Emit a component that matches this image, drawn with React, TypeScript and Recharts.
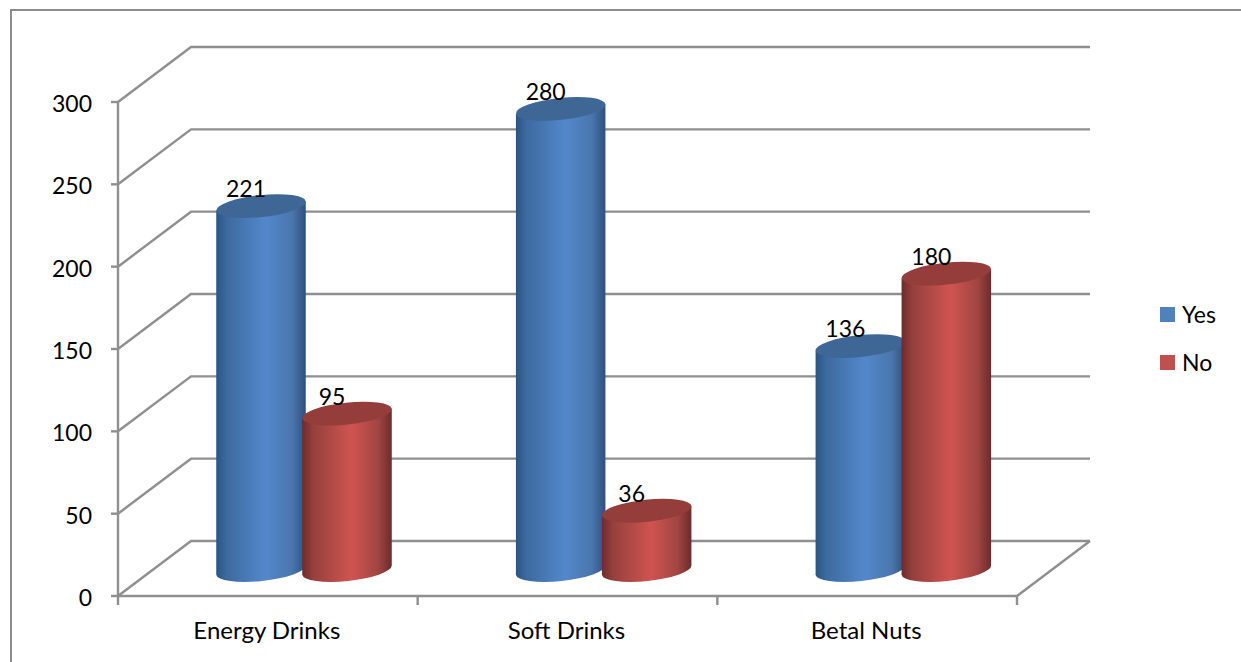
import { Bar, BarChart, CartesianGrid, LabelList, Legend, XAxis, YAxis } from "recharts";

const categories = ["Energy Drinks", "Soft Drinks", "Betal Nuts"];
const yesValues = [221, 280, 136];
const noValues = [95, 36, 180];
const yTicks = [0, 50, 100, 150, 200, 250, 300];

const chartData = categories.map((name, i) => ({
  name,
  yes: yesValues[i],
  no: noValues[i],
}));

const FONT = "Lato, 'Open Sans', sans-serif";
const LINE = "#8f8f8f";
const BLUE = "#4f81bd";
const RED = "#c0504d";

// the fake 3d: back wall offset, and where the cylinders stand on the floor
const WALL_X = 73;
const WALL_Y = -55;
const BAR_X = 36;
const BAR_Y = -26;
const TILT = 6;
const CAP_RY = 11;

const Cylinder = (props: any) => {
  const { x, y, width, height, fill } = props;
  const cx = x + width / 2 + BAR_X;
  const top = y + BAR_Y;
  const bottom = y + height + BAR_Y;
  const rx = width / 2;
  const ex = rx * Math.cos((TILT * Math.PI) / 180);
  const ey = rx * Math.sin((TILT * Math.PI) / 180);
  const isBlue = fill === BLUE;
  const body = `M${cx - ex},${top + ey} L${cx - ex},${bottom + ey} A${rx},${CAP_RY} ${-TILT} 0 0 ${cx + ex},${bottom - ey} L${cx + ex},${top - ey} Z`;
  return (
    <g>
      <path d={body} fill={isBlue ? "url(#blueBody)" : "url(#redBody)"} />
      <ellipse
        cx={cx}
        cy={top}
        rx={rx}
        ry={CAP_RY}
        transform={`rotate(${-TILT} ${cx} ${top})`}
        fill={isBlue ? "#3f6796" : "#943d3b"}
      />
    </g>
  );
};

const WallLine = (props: any) => {
  const { x1, x2, y1 } = props;
  const isFloor = y1 > 590;
  return (
    <g fill="none" stroke={LINE} strokeWidth={2.4}>
      <path d={`M${x1},${y1} L${x1 + WALL_X},${y1 + WALL_Y} L${x2 + WALL_X},${y1 + WALL_Y}`} />
      {isFloor && <path d={`M${x2},${y1} L${x2 + WALL_X},${y1 + WALL_Y}`} />}
    </g>
  );
};

const CategoryTick = (props: any) => {
  const { x, y, payload, index } = props;
  const half = payload.offset;
  return (
    <g>
      <line x1={x - half} x2={x - half} y1={y - 8} y2={y + 1} stroke={LINE} strokeWidth={2.4} />
      {index === categories.length - 1 && (
        <line x1={x + half} x2={x + half} y1={y - 8} y2={y + 1} stroke={LINE} strokeWidth={2.4} />
      )}
      <text x={x - 1} y={y + 35} textAnchor="middle" fontFamily={FONT} fontSize={24} fill="#000">
        {payload.value}
      </text>
    </g>
  );
};

const BarValue = (props: any) => {
  const { x, y, width, value } = props;
  return (
    <text
      x={x + width / 2 + BAR_X - 15}
      y={y - 35}
      textAnchor="middle"
      fontFamily={FONT}
      fontSize={23}
      fill="#000"
    >
      {value}
    </text>
  );
};

const LegendBox = ({ payload }: any) => (
  <div style={{ fontFamily: FONT, fontSize: 23, color: "#000" }}>
    {(payload || []).map((p: any) => (
      <div key={p.value} style={{ display: "flex", alignItems: "center", height: 48 }}>
        <span style={{ width: 15, height: 15, background: p.color, marginRight: 7 }} />
        {p.value}
      </div>
    ))}
  </div>
);

export default function App() {
  return (
    <div style={{ position: "absolute", left: 0, top: 0, width: 1241, height: 662, background: "#fff", overflow: "hidden" }}>
      <div
        style={{
          position: "absolute",
          left: 10,
          top: 9,
          width: 1300,
          height: 800,
          borderTop: "2px solid #8c8c8c",
          borderLeft: "2px solid #8c8c8c",
        }}
      />
      <BarChart
        width={1241}
        height={662}
        data={chartData}
        margin={{ top: 102, right: 144, bottom: 0, left: 0 }}
        barSize={90}
        barGap={-4}
        style={{ position: "absolute", left: 0, top: 0 }}
      >
        <defs>
          <linearGradient id="blueBody" x1="0" y1="0" x2="1" y2="0">
            <stop offset="0" stopColor="#2b5485" />
            <stop offset="0.12" stopColor="#3d6a9f" />
            <stop offset="0.55" stopColor="#5288cb" />
            <stop offset="0.85" stopColor="#4a76ad" />
            <stop offset="1" stopColor="#2f4f7c" />
          </linearGradient>
          <linearGradient id="redBody" x1="0" y1="0" x2="1" y2="0">
            <stop offset="0" stopColor="#6d2b2a" />
            <stop offset="0.12" stopColor="#95403d" />
            <stop offset="0.55" stopColor="#cf5450" />
            <stop offset="0.85" stopColor="#a04542" />
            <stop offset="1" stopColor="#6a2c2b" />
          </linearGradient>
        </defs>
        <CartesianGrid vertical={false} horizontal={WallLine} />
        <XAxis
          dataKey="name"
          height={66}
          stroke={LINE}
          strokeWidth={2.4}
          tickLine={false}
          interval={0}
          tick={CategoryTick}
        />
        <YAxis
          width={118}
          domain={[0, 300]}
          ticks={yTicks}
          interval={0}
          stroke={LINE}
          strokeWidth={2.4}
          tickSize={7}
          tickMargin={19}
          tick={{ fill: "#000", fontSize: 23, fontFamily: FONT, dy: 2 }}
        />
        <Legend
          layout="vertical"
          align="right"
          verticalAlign="middle"
          itemSorter={null}
          content={LegendBox}
          wrapperStyle={{ left: 1160, right: "auto", top: 290, bottom: "auto", width: 80 }}
        />
        <Bar dataKey="yes" name="Yes" fill={BLUE} shape={Cylinder} isAnimationActive={false}>
          <LabelList dataKey="yes" content={BarValue} />
        </Bar>
        <Bar dataKey="no" name="No" fill={RED} shape={Cylinder} isAnimationActive={false}>
          <LabelList dataKey="no" content={BarValue} />
        </Bar>
      </BarChart>
    </div>
  );
}
